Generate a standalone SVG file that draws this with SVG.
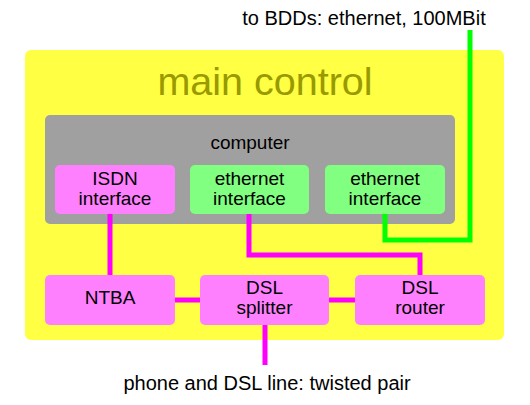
<svg xmlns="http://www.w3.org/2000/svg" width="530" height="405" viewBox="0 0 530 405">
<style>
text{font-family:"Liberation Sans",Arial,sans-serif;text-anchor:middle;fill:#000}
.t{font-size:19px}
.m{fill:#ff80ff}
.g{fill:#80ff80}
.lm{stroke:#ff00ff;stroke-width:5;fill:none}
.lg{stroke:#00ff00;stroke-width:5;fill:none}
</style>
<rect width="530" height="405" fill="#fff"/>
<g id="main_control">
<rect x="25" y="50" width="479" height="290" rx="6" fill="#ffff44"/>
<text x="265" y="95" style="font-size:39.5px;fill:#999900">main control</text>
</g>
<g id="computer">
<rect x="45" y="115" width="410" height="109" rx="5" fill="#a0a0a0"/>
<text class="t" x="250" y="149">computer</text>
</g>
<g id="connectors">
<path class="lm" d="M110 214V275"/>
<path class="lm" d="M249 214V255H420V275"/>
<path class="lm" d="M175 300H200M329 300H355"/>
<path class="lm" d="M265 325V365"/>
<path class="lg" d="M385 214V240H470V30"/>
</g>
<g id="isdn">
<rect class="m" x="55" y="165" width="120" height="49" rx="5"/>
<text class="t" x="115" y="185">ISDN</text>
<text class="t" x="115" y="205">interface</text>
</g>
<g id="eth1">
<rect class="g" x="190" y="165" width="119" height="49" rx="5"/>
<text class="t" x="249.5" y="185">ethernet</text>
<text class="t" x="249.5" y="205">interface</text>
</g>
<g id="eth2">
<rect class="g" x="325" y="165" width="120" height="49" rx="5"/>
<text class="t" x="385" y="185">ethernet</text>
<text class="t" x="385" y="205">interface</text>
</g>
<g id="ntba">
<rect class="m" x="45" y="275" width="130" height="50" rx="5"/>
<text class="t" x="110" y="304">NTBA</text>
</g>
<g id="splitter">
<rect class="m" x="200" y="275" width="129" height="50" rx="5"/>
<text class="t" x="264.5" y="294">DSL</text>
<text class="t" x="264.5" y="314">splitter</text>
</g>
<g id="router">
<rect class="m" x="355" y="275" width="130" height="50" rx="5"/>
<text class="t" x="420" y="294">DSL</text>
<text class="t" x="420" y="314">router</text>
</g>
<g id="labels">
<text x="364" y="25" style="font-size:20px">to BDDs: ethernet, 100MBit</text>
<text x="267" y="390" style="font-size:20px">phone and DSL line: twisted pair</text>
</g>
</svg>
